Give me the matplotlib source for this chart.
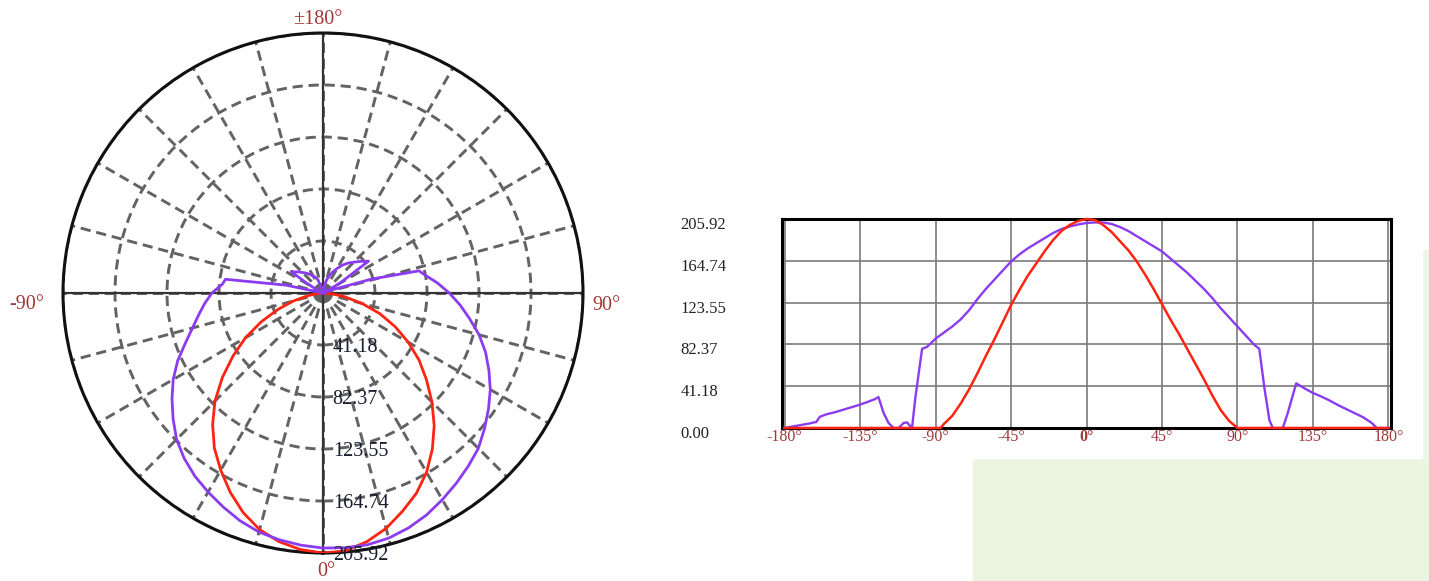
import numpy as np
import matplotlib
matplotlib.use("Agg")
import matplotlib.pyplot as plt
from matplotlib.patches import Rectangle
from matplotlib.transforms import ScaledTranslation

plt.rcParams['font.family'] = ['Liberation Serif', 'DejaVu Serif']

# ring values used for grid and labels
ring_vals = [41.18, 82.37, 123.55, 164.74, 205.92]
ring_labels = ["41.18", "82.37", "123.55", "164.74", "205.92"]
r_max = 205.92

# C90-C270 plane (purple)
purple_ang = [-180, -175, -170, -165, -161, -159, -155, -150, -145, -140, -135, -130,
              -126, -124, -121, -118, -115, -112, -109, -107, -104, -102, -98, -95,
              -90, -85, -80, -75, -70, -65, -60, -55, -50, -45, -40, -35, -30, -25,
              -20, -15, -10, -5, 0, 5, 10, 15, 20, 25, 30, 35, 40, 45, 50, 55, 60,
              65, 70, 75, 80, 85, 90, 95, 100, 103, 106, 109, 111, 117, 120, 125,
              130, 135, 140, 145, 150, 155, 160, 165, 170, 173, 180]
purple_val = [0, 1.5, 3, 4.5, 6, 11, 13.5, 15.5, 18, 20.5, 23, 26,
              28.5, 30.5, 15, 5, 0, 0, 5, 5.5, 0, 30, 78, 80,
              88, 94, 100, 107, 116, 127, 137, 146, 155, 164, 171, 177, 182, 187,
              192, 196, 198.5, 200.5, 202, 202.5, 202.5, 201, 198, 194, 189, 184, 179, 174, 167, 160, 153,
              145, 137, 128, 118, 109, 100, 91, 82, 78, 40, 8, 0, 0, 15, 44,
              39, 34.5, 31, 27, 22.5, 18.5, 14.5, 10.5, 5, 0, 0]

# C0-C180 plane (red)
red_ang = [-180, -90, -87, -85, -80, -75, -70, -65, -60, -55, -50, -45, -40, -35, -30,
           -25, -20, -15, -10, -5, 0, 5, 10, 15, 20, 25, 30, 35, 40, 45, 50, 55,
           60, 65, 70, 75, 80, 85, 90, 180]
red_val = [0, 0, 0, 4, 12, 24, 38, 54, 71, 87, 104, 121, 136, 150, 162,
           174, 185, 194, 200, 204, 205.92, 205, 200, 193, 184, 175, 164, 151, 137, 122, 107, 93,
           78, 63, 48, 32, 17.7, 7, 0, 0]

x_ticks = [-180, -135, -90, -45, 0, 45, 90, 135, 180]

# polar direction labels: (angle, text, offset px, ha)
dir_labels = [(180, '±180°', (-5, 13), 'center'),
              (270, '-90°', (-19, -12), 'right'),
              (90, '90°', (9, -12), 'left'),
              (0, '0°', (3, -18), 'center')]

purple = '#8b3cf0'
red = '#ff2412'
label_red = '#a03838'

fig = plt.figure(figsize=(14.29, 5.81), dpi=100)
W, H = 1429, 581
px = 72 / fig.dpi

# faint background decoration
fig.patches.append(Rectangle((973 / W, 0), (W - 973) / W, (H - 458) / H,
                             transform=fig.transFigure, color='#ebf5e1', zorder=-2))
fig.patches.append(Rectangle((1422 / W, (H - 458) / H), 7 / W, 208 / H,
                             transform=fig.transFigure, color='#eef6e8', zorder=-2))

# ---- polar plot ----
ax = fig.add_axes([63 / W, (H - 553) / H, 520 / W, 520 / H], projection='polar')
ax.set_theta_zero_location('S')
ax.set_theta_direction(1)
ax.set_ylim(0, r_max)
ax.set_yticks(ring_vals)
ax.set_yticklabels([])
theta_ticks = np.arange(0, 360, 15)
ax.set_xticks(np.deg2rad(theta_ticks))
ax.set_xticklabels([])
ax.grid(True, color='#636363', linestyle=(0, (3.5, 2)), linewidth=2.1)
ax.spines['polar'].set_linewidth(2.2)
ax.spines['polar'].set_color('#111111')

for t in [0, 90, 180, 270]:
    ax.plot([np.deg2rad(t), np.deg2rad(t)], [0, r_max], color='#333333', lw=1.6, zorder=2)

ax.plot(np.deg2rad(red_ang), red_val, color=red, lw=2.0, zorder=3)
ax.plot(np.deg2rad(purple_ang), purple_val, color=purple, lw=2.0, zorder=3)

for v, lbl in zip(ring_vals, ring_labels):
    ax.annotate(lbl, xy=(0, v), xytext=(7, -2), textcoords='offset points',
                ha='left', va='center', fontsize=14.5, color='#1a2030', zorder=5,
                annotation_clip=False)

for ang, txt, (dx, dy), ha in dir_labels:
    ax.annotate(txt, xy=(np.deg2rad(ang), r_max), xytext=(dx * px, dy * px),
                textcoords='offset points', ha=ha, va='center', fontsize=14.5,
                color=label_red, annotation_clip=False)

# ---- cartesian plot ----
bg = Rectangle((668 / W, (H - 458) / H), (1422 - 668) / W, 253 / H,
               transform=fig.transFigure, color='white', zorder=-1)
fig.patches.append(bg)

ax2 = fig.add_axes([782 / W, (H - 428) / H, 609 / W, 209 / H])
ax2.plot(purple_ang, purple_val, color=purple, lw=1.7, zorder=5, clip_on=False)
ax2.plot(red_ang, red_val, color=red, lw=1.8, zorder=6, clip_on=False)
ax2.set_xlim(-181.5, 181.5)
ax2.set_ylim(0, r_max)
ax2.set_xticks(x_ticks)
ax2.set_xticklabels([f'{v}°' for v in x_ticks])
ax2.set_yticks([0] + ring_vals)
ax2.set_yticklabels(['0.00'] + ring_labels)
ax2.grid(True, color='#7a7a7a', lw=1.2)
ax2.set_axisbelow(True)
for s in ax2.spines.values():
    s.set_linewidth(2.2)
    s.set_color('black')
    s.set_zorder(4)
ax2.tick_params(axis='x', length=0, pad=1, labelsize=11.5, labelcolor=label_red)
ax2.tick_params(axis='y', length=0, pad=73, labelsize=12, labelcolor='#222222')
shift = ScaledTranslation(0, -4 / fig.dpi, fig.dpi_scale_trans)
for t in ax2.get_yticklabels():
    t.set_horizontalalignment('left')
    t.set_transform(t.get_transform() + shift)
for t in ax2.get_xticklabels():
    if t.get_text() == '0°':
        t.set_fontweight('bold')

fig.savefig('out.png', dpi=100)
